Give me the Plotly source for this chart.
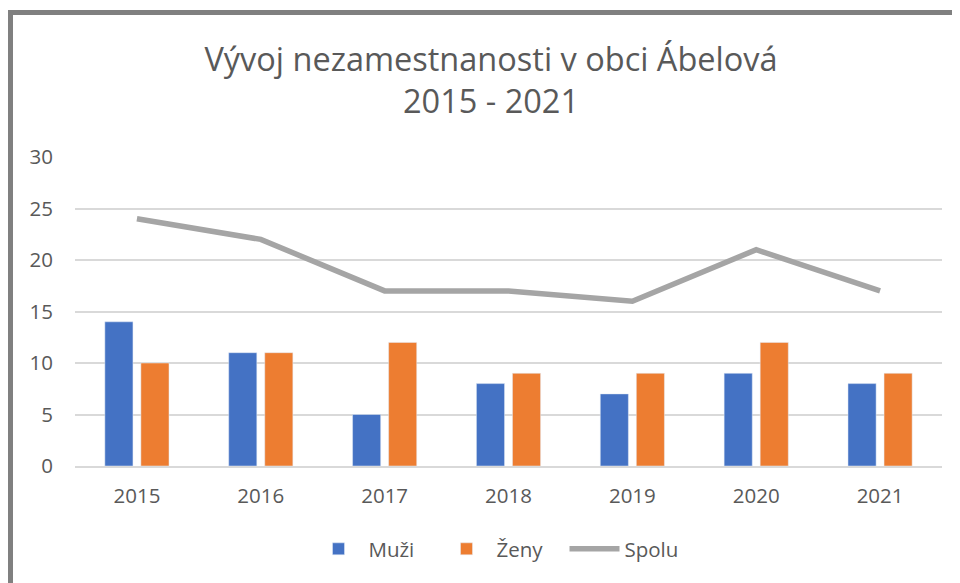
import plotly.graph_objects as go

years = ["2015", "2016", "2017", "2018", "2019", "2020", "2021"]
muzi = [14, 11, 5, 8, 7, 9, 8]
zeny = [10, 11, 12, 9, 9, 12, 9]
spolu = [24, 22, 17, 17, 16, 21, 17]
y_ticks = [0, 5, 10, 15, 20, 25, 30]

# the page body adds an 8px offset; reference pixel coords are converted with OFF
OFF = 8
W, H = 960, 583
L = 75 - OFF
T = 157 - OFF
B = H - (466 - OFF)
R = W - (942 - OFF)
pw, ph = W - L - R, H - T - B

def px(x):
    return (x - OFF - L) / pw

def py(y):
    return (H - B - (y - OFF)) / ph

txt = "#595959"
font = "Open Sans"

fig = go.Figure()
fig.add_trace(go.Bar(x=years, y=muzi, name="Muži", marker_color="#4472C4"))
fig.add_trace(go.Bar(x=years, y=zeny, name="Ženy", marker_color="#ED7D31"))
fig.add_trace(go.Scatter(x=years, y=spolu, name="Spolu", mode="lines",
                         line=dict(color="#A5A5A5", width=5.5)))

fig.update_layout(
    width=W, height=H,
    margin=dict(l=L, r=R, t=T, b=B),
    paper_bgcolor="white", plot_bgcolor="white",
    barmode="group", bargap=0.418, bargroupgap=0.22,
    font=dict(family=font, color=txt, size=20),
    title=dict(text="Vývoj nezamestnanosti v obci Ábelová<br>2015 - 2021",
               x=(491 - OFF) / W, xanchor="center", xref="container",
               y=1 - (70.5 - OFF) / H, yanchor="middle", yref="container",
               font=dict(size=32.5, color=txt, family=font)),
    legend=dict(orientation="h", x=px(500.5), xanchor="center",
                y=py(549), yanchor="middle",
                font=dict(size=20.5, color=txt), itemwidth=50,
                entrywidth=63, entrywidthmode="pixels",
                traceorder="normal"),
    showlegend=True,
)
fig.update_xaxes(showgrid=False, showline=True, linecolor="#D9D9D9", linewidth=1.5,
                 ticks="", tickfont=dict(size=20.5, color=txt), ticklabelstandoff=11)
fig.update_yaxes(range=[0, 30], tickvals=y_ticks, showgrid=True, gridcolor="#D9D9D9",
                 gridwidth=1.5, zeroline=False, showline=False, ticks="",
                 tickfont=dict(size=20.5, color=txt), ticklabelstandoff=21)

# outer frame (partially cropped)
fc = "#808080"
fig.add_shape(type="line", xref="paper", yref="paper",
              x0=px(10.5), x1=px(10.5), y0=py(12.5), y1=py(700),
              line=dict(color=fc, width=5))
fig.add_shape(type="line", xref="paper", yref="paper",
              x0=px(8), x1=px(1100), y0=py(12.5), y1=py(12.5),
              line=dict(color=fc, width=5))

fig.write_html("out.html")
